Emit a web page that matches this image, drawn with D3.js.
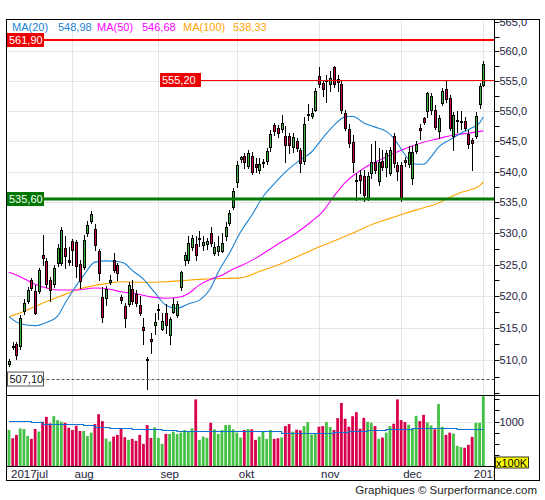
<!DOCTYPE html>
<html><head><meta charset="utf-8">
<script src="https://cdn.jsdelivr.net/npm/d3@7"></script>
<style>body{margin:0;background:#fff}svg{display:block;font-family:"Liberation Sans",Arial,sans-serif}</style>
</head><body><svg id="c" width="545" height="500"></svg>
<script>
// ---- data ----
const openP = [509.4,512.3,512.6,512.3,517.7,519.2,522.6,520.8,520.8,526.6,
525.6,522.6,521.9,525.2,525.3,527.6,525.8,528.8,528.6,525.1,
524.6,530.0,532.0,530.7,527.1,519.9,519.8,522.3,525.7,524.9,
519.9,518.5,518.8,521.2,520.3,518.6,515.2,510.3,513.4,515.5,
517.9,514.9,517.3,513.9,517.6,517.1,521.4,525.8,525.7,527.8,
528.3,529.2,528.2,528.3,530.0,526.9,527.1,527.2,529.5,531.7,
534.3,538.3,542.0,542.6,540.9,542.6,541.2,540.2,541.4,541.8,
544.1,547.6,547.2,547.0,545.8,545.8,544.0,545.0,543.5,541.7,
549.3,549.2,550.2,555.8,554.6,555.1,554.5,557.3,555.4,554.5,
549.6,547.0,544.9,538.6,539.5,539.3,535.6,539.7,541.5,538.5,
541.7,540.7,539.8,545.8,541.1,541.1,541.9,541.2,538.9,543.4,
547.1,548.8,550.0,550.1,550.1,546.7,551.3,553.7,552.1,545.9,
548.3,548.1,548.3,546.2,545.2,545.9,551.1,554.4];
const highP = [510.2,512.9,512.9,517.1,519.6,521.5,522.9,521.8,524.5,529.7,
526.0,523.0,525.0,528.3,531.0,529.5,527.8,529.1,529.0,525.7,
529.7,531.9,533.6,531.5,527.5,521.5,521.6,523.3,526.8,525.3,
520.2,519.0,522.3,522.6,521.0,520.0,516.6,510.6,514.2,517.4,
518.8,517.4,518.8,516.8,519.8,519.3,524.0,527.0,529.6,529.8,
529.5,530.4,529.6,529.2,531.0,528.6,529.6,530.0,531.8,533.8,
537.3,541.8,542.6,543.0,543.5,543.2,542.2,542.2,542.0,543.8,
546.9,548.0,547.7,549.3,547.5,546.4,546.3,545.5,543.9,549.0,
551.2,550.5,553.8,557.4,555.0,556.0,556.6,557.6,556.0,555.0,
550.2,547.8,546.0,539.8,540.3,540.2,540.0,544.5,545.0,543.8,
543.5,543.6,544.1,546.3,541.6,541.6,542.4,544.2,544.2,545.0,
547.9,549.0,553.1,553.0,551.0,549.3,553.8,555.1,552.6,549.8,
550.0,550.0,548.9,546.9,545.5,549.8,554.6,558.3];
const lowP = [509.2,511.7,510.3,511.8,517.2,518.9,521.0,517.2,520.5,524.9,
521.5,519.3,521.4,524.8,525.0,524.5,524.9,524.9,523.0,521.3,
524.3,529.5,531.7,527.3,522.5,516.0,518.6,522.0,523.8,522.6,
519.0,515.2,518.5,518.8,518.5,517.0,512.6,505.6,511.2,514.1,
516.5,514.7,514.2,512.6,517.3,516.7,521.0,524.9,525.3,527.4,
525.8,528.0,527.3,527.5,528.0,526.6,526.6,527.0,529.0,531.4,
533.9,537.4,541.6,540.5,540.5,539.6,539.9,539.7,540.8,541.3,
543.4,546.0,545.6,546.5,541.6,543.0,543.2,543.3,539.9,541.2,
548.5,548.8,550.0,554.0,552.5,551.5,553.3,554.0,553.3,549.6,
546.8,544.0,540.0,535.3,536.5,535.2,535.3,538.9,539.8,537.8,
540.2,539.3,539.5,540.8,538.6,535.2,540.9,540.8,538.0,543.0,
545.4,547.8,549.0,549.5,547.0,545.5,551.0,551.5,546.8,543.6,
546.5,547.0,546.8,543.9,540.2,545.5,550.5,554.1];
const closeP = [509.9,512.2,510.9,516.6,519.0,521.0,521.3,517.4,524.1,526.1,
522.0,521.0,524.5,527.6,530.6,526.3,525.4,527.3,524.8,522.4,
529.0,531.4,533.1,528.1,523.6,516.8,521.1,522.6,524.1,523.6,
519.4,516.6,521.8,519.3,518.9,517.3,514.7,510.1,513.0,516.0,
518.0,516.2,515.5,516.4,518.8,518.8,523.8,526.5,528.5,529.2,
526.6,529.3,528.6,528.7,528.4,527.8,527.9,528.4,531.0,533.3,
536.8,541.0,542.3,541.6,543.0,540.0,540.8,541.3,541.6,543.3,
546.2,546.6,546.4,548.0,544.3,544.4,545.6,543.9,541.4,547.9,
549.4,549.6,553.3,554.5,553.7,555.2,555.5,554.5,554.9,550.1,
547.2,544.6,541.6,538.4,538.6,536.2,539.3,541.6,540.3,541.5,
540.7,543.1,543.5,541.4,540.1,535.5,541.6,543.2,543.2,544.5,
546.9,548.2,552.9,552.4,547.4,548.8,553.3,551.9,547.2,549.3,
548.5,548.3,547.1,544.5,544.6,549.2,554.1,557.9];
// volume in units of 100K
const volume = [811,629,702,848,833,680,614,833,775,994,
1104,958,1118,1031,994,972,862,811,906,789,
789,680,753,943,1162,1009,621,555,665,702,
833,651,592,614,570,702,504,921,636,870,
636,504,724,724,775,724,753,811,775,848,
1491,592,665,636,972,826,724,811,921,921,
826,753,643,811,833,826,592,665,789,614,
811,614,629,643,899,943,775,818,804,899,
987,709,738,884,899,987,877,811,1075,1411,
1060,884,1118,1206,840,1082,994,972,899,614,
643,753,899,950,1491,1031,987,928,848,1126,
1009,1148,980,914,826,1389,884,702,753,731,
461,431,417,482,658,972,972,1563];
// moving averages: [candle index, value]
const ma20Pts = [[0,516.8],[3,515.7],[7,515.4],[10,515.9],[13,516.9],[15,518.9],[17,520.8],[20,523.3],[23,525.4],[26,525.6],[29,525.5],[31,525.2],[33,524.1],[36,522.7],[39,520.6],[42,518.6],[45,518.1],[48,518.8],[51,519.4],[54,521.3],[56,523.8],[59,526.8],[62,530.2],[65,532.9],[68,535.9],[71,538.0],[74,539.9],[78,541.9],[81,543.2],[84,545.5],[87,547.6],[90,549.0],[92,549.1],[95,548.0],[98,547.3],[101,546.6],[103,545.5],[105,543.7],[107,542.0],[109,541.2],[111,541.2],[113,542.4],[115,544.0],[118,545.2],[121,546.3],[124,547.2],[126,548.0],[127,548.98]];
const ma50Pts = [[0,523.8],[3,523.1],[7,521.9],[10,521.3],[13,521.0],[18,521.0],[23,521.3],[27,521.1],[30,520.7],[34,520.4],[38,519.9],[42,519.7],[45,519.8],[48,520.4],[51,521.8],[54,522.7],[57,523.3],[60,524.3],[62,524.8],[66,526.0],[71,527.9],[77,530.1],[81,531.9],[84,533.5],[87,536.0],[90,538.2],[93,539.7],[96,540.9],[99,541.8],[102,542.7],[105,543.5],[108,544.2],[111,544.8],[115,545.4],[119,546.0],[123,546.3],[127,546.68]];
const ma100Pts = [[0,516.8],[4,517.6],[7,518.4],[11,519.4],[15,520.3],[18,521.0],[22,521.6],[26,522.0],[30,522.3],[36,522.2],[42,522.3],[47,522.5],[52,522.7],[57,522.8],[62,522.9],[67,523.9],[73,525.2],[78,526.5],[83,527.8],[88,529.0],[93,530.3],[98,531.6],[102,532.4],[106,533.2],[111,534.1],[115,534.9],[118,535.8],[121,536.6],[124,537.1],[126,537.7],[127,538.33]];
const volMAPts = [[0,1009],[6,980],[9,943],[20,921],[23,870],[27,848],[33,833],[41,811],[45,796],[53,782],[73,738],[87,775],[91,796],[96,811],[101,833],[108,855],[120,833],[127,833]];
const maNames = ["MA(20)","MA(50)","MA(100)"];
const maLast = [548.98, 546.68, 538.33];
const levelValues = [561.90, 555.20, 535.60, 507.10];
const monthIdx = [0,17,40,61,83,105,127];
const monthLabels = ["2017jul","aug","sep","okt","nov","dec","2018"];
const priceTicks = d3.range(505, 566, 2.5);
const priceLabels = d3.range(510, 566, 5);
const volTicks = [250,500,750,1000,1250,1500];
const volLabels = [1000];

// ---- layout ----
const svg = d3.select("#c");
const L=6.5, R=494.5, RF=539.5, T=19.5, PB=395.5, VB=466.5, B=480.5;
const n = closeP.length;
const x = d3.scaleBand().domain(d3.range(n)).range([7.13, 485.2]);
const cx = i => x(i) + x.bandwidth()/2;
const y = d3.scaleLog().domain([504.7, 565.5]).range([395, 19]);
const yv = d3.scaleLinear().domain([0, 1578]).range([466.5, 395.5]);
const loc = d3.formatLocale({decimal:",", thousands:" ", grouping:[3], currency:["",""]});
const f1 = loc.format(".1f"), f2 = loc.format(".2f");
const navy = "#1c1c3c";
const colUp="#3cb43c", colDn="#cc0044", vUp="#44c144", vDn="#d6004c";
const maCol = ["#1a82d4","#ff00ff","#ffa500"];
const FS = 11;

const defs = svg.append("defs");
defs.append("clipPath").attr("id","pc").append("rect").attr("x",L).attr("y",T).attr("width",R-L).attr("height",PB-T);
defs.append("clipPath").attr("id","vc").append("rect").attr("x",L).attr("y",PB).attr("width",R-L).attr("height",VB-PB);
defs.append("clipPath").attr("id","ac").append("rect").attr("x",R).attr("y",T+0.5).attr("width",RF-R).attr("height",PB-T);
defs.append("clipPath").attr("id","dc").append("rect").attr("x",L).attr("y",VB).attr("width",R-L).attr("height",B-VB);

// grid
const grid = svg.append("g").attr("stroke","#e6e6e6").attr("stroke-width",1);
priceLabels.filter(v=>v<=560).forEach(v=>{
  const yy = Math.round(y(v))+0.5;
  grid.append("line").attr("x1",L).attr("x2",R).attr("y1",yy).attr("y2",yy);
});
grid.append("line").attr("x1",L).attr("x2",R).attr("y1",Math.round(yv(1000))+0.5).attr("y2",Math.round(yv(1000))+0.5);
monthIdx.slice(1).forEach(i=>{
  const xx = Math.round(cx(i))+0.5;
  grid.append("line").attr("x1",xx).attr("x2",xx).attr("y1",T).attr("y2",VB);
});

// MA lines
const pg = svg.append("g").attr("clip-path","url(#pc)");
[ma100Pts, ma50Pts, ma20Pts].forEach((pts,k)=>{
  const col = maCol[2-k];
  pg.append("path").attr("d", d3.line().x(d=>cx(d[0])).y(d=>y(d[1])).curve(d3.curveMonotoneX)(pts))
    .attr("fill","none").attr("stroke",col).attr("stroke-width",1.1);
});

// level lines
const lv = svg.append("g");
const yl = v => Math.round(y(v));
lv.append("line").attr("x1",L).attr("x2",R).attr("y1",yl(levelValues[0])).attr("y2",yl(levelValues[0])).attr("stroke","#ff0000").attr("stroke-width",2);
lv.append("line").attr("x1",160).attr("x2",R).attr("y1",yl(levelValues[1])+0.5).attr("y2",yl(levelValues[1])+0.5).attr("stroke","#ff0000").attr("stroke-width",1);
lv.append("line").attr("x1",L).attr("x2",R).attr("y1",yl(levelValues[2])).attr("y2",yl(levelValues[2])).attr("stroke","#007a00").attr("stroke-width",3);
lv.append("line").attr("x1",L).attr("x2",R).attr("y1",yl(levelValues[3])+0.5).attr("y2",yl(levelValues[3])+0.5).attr("stroke","#555").attr("stroke-width",1).attr("stroke-dasharray","3,2");

// candles
const cg = pg.append("g");
for (let i=0;i<n;i++){
  const o=openP[i], c=closeP[i], h=highP[i], l=lowP[i];
  const a = Math.round(cx(i))-1;
  cg.append("line").attr("x1",a+1.5).attr("x2",a+1.5).attr("y1",Math.round(y(h))).attr("y2",Math.round(y(l))+1).attr("stroke","#000").attr("stroke-width",1);
  const t = Math.round(y(Math.max(o,c)))+0.5, b = Math.round(y(Math.min(o,c)))+0.5;
  cg.append("rect").attr("x",a+0.5).attr("y",t).attr("width",2).attr("height",Math.max(b-t,1))
    .attr("fill", c>=o?colUp:colDn).attr("stroke","#000").attr("stroke-width",1);
}

// volume
const vg = svg.append("g").attr("clip-path","url(#vc)");
for (let i=0;i<n;i++){
  const up = closeP[i]>=openP[i];
  vg.append("rect").attr("x",cx(i)-1.4).attr("width",2.8).attr("y",yv(volume[i])).attr("height",yv(0)-yv(volume[i]))
    .attr("fill", up?vUp:vDn);
}
vg.append("path").attr("d", d3.line().x(d=>cx(d[0])).y(d=>Math.round(yv(d[1]))+0.5).curve(d3.curveStepAfter)(volMAPts))
  .attr("fill","none").attr("stroke","#0a72d2").attr("stroke-width",1.2);

// level labels
function tag(v, x0, w, bg, fg, border){
  const yy = yl(v);
  svg.append("rect").attr("x",x0).attr("y",yy-7).attr("width",w).attr("height",14).attr("fill",bg)
     .attr("stroke", border||"none").attr("stroke-width",1);
  svg.append("text").attr("x",x0+2).attr("y",yy+4).attr("font-size",FS).attr("fill",fg).text(f2(v));
}
tag(levelValues[0], 7, 37, "#ee0000", "#fff");
tag(levelValues[1], 160, 41, "#ee0000", "#fff");
tag(levelValues[2], 7, 37, "#007700", "#fff");
tag(levelValues[3], 7.5, 36, "#fff", "#111", "#555");

// frame
const fr = svg.append("g").attr("stroke","#000").attr("stroke-width",1).attr("fill","none");
fr.append("rect").attr("x",L).attr("y",T).attr("width",RF-L).attr("height",B-T);
fr.append("line").attr("x1",R).attr("x2",R).attr("y1",T).attr("y2",B);
fr.append("line").attr("x1",L).attr("x2",RF).attr("y1",PB).attr("y2",PB);
fr.append("line").attr("x1",L).attr("x2",R).attr("y1",VB).attr("y2",VB);

// price axis
const ax = svg.append("g").attr("clip-path","url(#ac)");
priceTicks.forEach(v=>{
  const yy = Math.round(y(v))+0.5;
  if (yy < T || yy > PB) return;
  ax.append("line").attr("x1",R).attr("x2",R+5).attr("y1",yy).attr("y2",yy).attr("stroke","#000");
});
priceLabels.forEach(v=>{
  ax.append("text").attr("x",R+5).attr("y",y(v)+4).attr("font-size",FS).attr("fill",navy).text(f1(v));
});
// volume axis
volTicks.forEach(v=>{
  const yy = Math.round(yv(v))+0.5;
  svg.append("line").attr("x1",R).attr("x2",R+5).attr("y1",yy).attr("y2",yy).attr("stroke","#000");
});
volLabels.forEach(v=>{
  svg.append("text").attr("x",R+5).attr("y",yv(v)+4).attr("font-size",FS).attr("fill",navy).text(v);
});
svg.append("rect").attr("x",R+1).attr("y",457).attr("width",33).attr("height",11).attr("fill","#ffff00").attr("stroke","#000").attr("stroke-width",0.8);
svg.append("text").attr("x",R+1.5).attr("y",466.5).attr("font-size",FS).attr("fill","#000").text("x100K");

// date labels
const dg = svg.append("g").attr("clip-path","url(#dc)");
monthIdx.forEach((i,k)=>{
  const last = k===monthIdx.length-1;
  dg.append("text").attr("x", last ? cx(i)-9.5 : cx(i)+2).attr("y",478).attr("font-size",FS+0.5).attr("fill",navy).text(monthLabels[k]);
});

// legend
const lx = [12, 58, 97, 142, 183, 233];
maNames.forEach((nm,k)=>{
  svg.append("text").attr("x",lx[2*k]).attr("y",31).attr("font-size",FS).attr("fill",maCol[k]).text(nm);
  svg.append("text").attr("x",lx[2*k+1]).attr("y",31).attr("font-size",FS).attr("fill",maCol[k]).text(f2(maLast[k]));
});

svg.append("text").attr("x",537).attr("y",494).attr("text-anchor","end").attr("font-size",FS+0.5).attr("fill","#222").text("Graphiques © Surperformance.com");
</script></body></html>
